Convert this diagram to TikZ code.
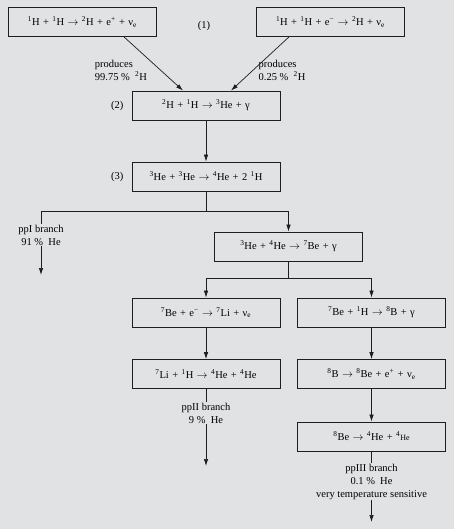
\documentclass[tikz,border=0pt]{standalone}
\usepackage{fontspec}
\setmainfont{Liberation Serif}
\usepackage{tikz}
\usetikzlibrary{arrows.meta,positioning}

\definecolor{panelgray}{RGB}{225,226,228}
\definecolor{inkgray}{RGB}{30,30,30}
\newcommand{\nuc}[2]{\textsuperscript{#1}#2}
\newcommand{\nue}{ν\textsubscript{e}}
\newcommand{\yields}{$\rightarrow$}
\newcommand{\widespaces}{\spaceskip=3.4pt plus 1pt\relax}

\tikzset{
  reaction/.style={draw=inkgray, line width=0.8pt, minimum width=148pt,
                   minimum height=29pt, inner sep=0pt,
                   font=\fontsize{10.5}{12}\selectfont\widespaces},
  branchlbl/.style={align=center, inner sep=1pt},
  steplbl/.style={inner sep=0pt},
  link/.style={draw=inkgray, line width=0.7pt},
  flow/.style={link, -{Latex[length=7pt,width=4.5pt]}}
}

\begin{document}
\begin{tikzpicture}[x=1pt, y=-1pt, font=\fontsize{10.5}{13}\selectfont]
  \fill[panelgray] (0,0) rectangle (454,529);
  \useasboundingbox (0,0) rectangle (454,529);

  % step (1)
  \node[reaction] (ppa) at (82.5,22)
    {\nuc{1}{H} + \nuc{1}{H} \yields{} \nuc{2}{H} + e\textsuperscript{+} + \nue};
  \node[reaction] (ppb) at (330.5,22)
    {\nuc{1}{H} + \nuc{1}{H} + e\textsuperscript{\textminus} \yields{} \nuc{2}{H} + \nue};
  \node[steplbl] (one) at (204,26) {(1)};

  % steps (2) and (3)
  \node[reaction] (deut) at (206,105.5)
    {\nuc{2}{H} + \nuc{1}{H} \yields{} \nuc{3}{He} + γ};
  \node[steplbl, left=8pt of deut] (two) {(2)};
  \node[reaction] (hethree) at (206,176.5)
    {\nuc{3}{He} + \nuc{3}{He} \yields{} \nuc{4}{He} + 2 \nuc{1}{H}};
  \node[steplbl, left=8pt of hethree] (three) {(3)};

  \node[branchlbl, align=left] (proda) at (121,70) {produces\\99.75 \%\ \ \nuc{2}{H}};
  \node[branchlbl, align=left] (prodb) at (282,70) {produces\\0.25 \%\ \ \nuc{2}{H}};

  \draw[flow] ([xshift=41.5pt]ppa.south) -- ([xshift=-23pt]deut.north);
  \draw[flow] ([xshift=-41.5pt]ppb.south) -- ([xshift=25pt]deut.north);
  \draw[flow] (deut) -- (hethree);

  % ppI and the 7Be side
  \coordinate (jthree) at (206,211);
  \node[branchlbl] (ppone) at (41,235) {ppI branch\\91 \%\ \ He};
  \coordinate (endone) at (41,275);
  \node[reaction] (beseven) at (288.5,246.5)
    {\nuc{3}{He} + \nuc{4}{He} \yields{} \nuc{7}{Be} + γ};
  \draw[link] (hethree) -- (jthree) -| (ppone.north);
  \draw[flow] (ppone) -- (endone);
  \draw[flow] (jthree) -| (beseven.north);

  % ppII and ppIII
  \coordinate (jfour) at (288.5,278);
  \node[reaction] (ecap) at (206,312.5)
    {\nuc{7}{Be} + e\textsuperscript{\textminus} \yields{} \nuc{7}{Li} + \nue};
  \node[reaction] (pcap) at (371.5,312.5)
    {\nuc{7}{Be} + \nuc{1}{H} \yields{} \nuc{8}{B} + γ};
  \node[reaction] (lithium) at (206,374)
    {\nuc{7}{Li} + \nuc{1}{H} \yields{} \nuc{4}{He} + \nuc{4}{He}};
  \node[reaction] (boron) at (371.5,374)
    {\nuc{8}{B} \yields{} \nuc{8}{Be} + e\textsuperscript{+} + \nue};
  \node[reaction] (beeight) at (371.5,436.5)
    {\nuc{8}{Be} \yields{} \nuc{4}{He} + \nuc{4}{\footnotesize He}};
  \draw[link] (beseven) -- (jfour);
  \draw[flow] (jfour) -| (ecap.north);
  \draw[flow] (jfour) -| (pcap.north);
  \draw[flow] (ecap) -- (lithium);
  \draw[flow] (pcap) -- (boron);
  \draw[flow] (boron) -- (beeight);

  \node[branchlbl] (pptwo) at (206,413) {ppII branch\\9 \%\ \ He};
  \coordinate (endtwo) at (206,466);
  \draw[link] (lithium) -- (pptwo);
  \draw[flow] (pptwo) -- (endtwo);

  \node[branchlbl] (ppthree) at (371.5,481.5)
    {ppIII branch\\0.1 \%\ \ He\\very temperature sensitive};
  \coordinate (endthree) at (371.5,522);
  \draw[link] (beeight) -- (ppthree);
  \draw[flow] (ppthree) -- (endthree);
\end{tikzpicture}
\end{document}
